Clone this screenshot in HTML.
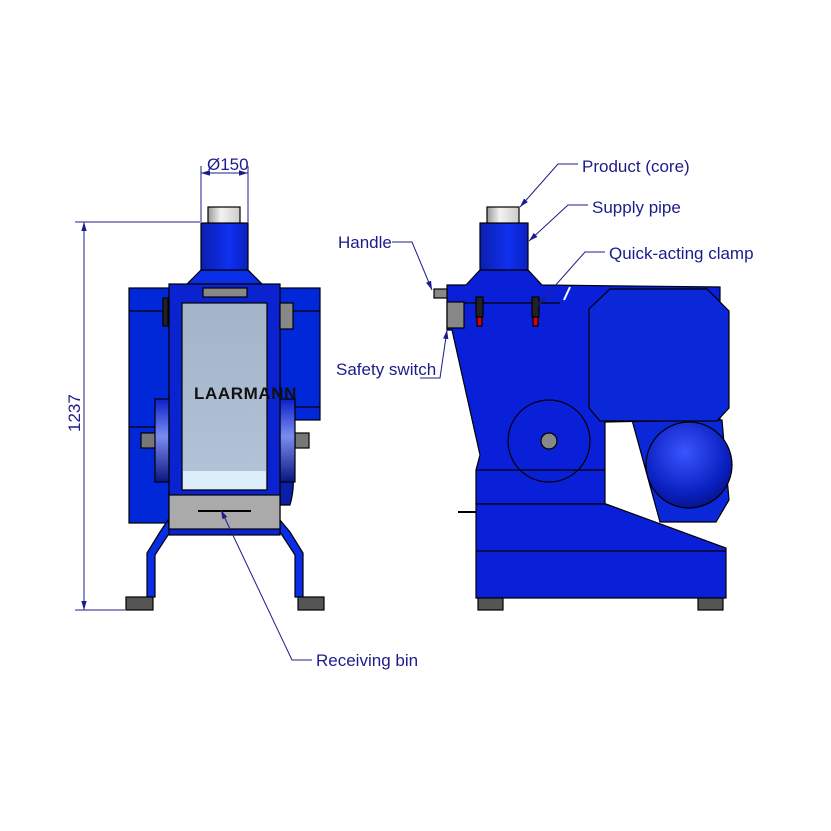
<!DOCTYPE html>
<html><head><meta charset="utf-8"><style>
html,body{margin:0;padding:0;background:#fff}
svg{display:block}
text{font-family:"Liberation Sans Narrow","Liberation Sans",sans-serif;fill:#1c1c8a;font-size:17px}
</style></head><body>
<svg width="831" height="831" viewBox="0 0 831 831" xmlns="http://www.w3.org/2000/svg">
<defs>
<linearGradient id="cap" x1="0" x2="1"><stop offset="0" stop-color="#999"/><stop offset=".4" stop-color="#f2f2f2"/><stop offset="1" stop-color="#ccc"/></linearGradient>
<linearGradient id="pipe" x1="0" x2="1"><stop offset="0" stop-color="#0a1fb0"/><stop offset=".6" stop-color="#1030f0"/><stop offset="1" stop-color="#0a20c0"/></linearGradient>
<linearGradient id="cyl" x1="0" x2="0" y1="0" y2="1"><stop offset="0" stop-color="#0b20c8"/><stop offset=".45" stop-color="#7a8cf0"/><stop offset="1" stop-color="#0a1580"/></linearGradient>
<radialGradient id="ball" cx=".45" cy=".35" r=".7"><stop offset="0" stop-color="#3a55ff"/><stop offset=".7" stop-color="#0a20c0"/><stop offset="1" stop-color="#061080"/></radialGradient>
<linearGradient id="panel" x1="0" x2="0" y1="0" y2="1"><stop offset="0" stop-color="#a4b4c8"/><stop offset="1" stop-color="#b4c4d8"/></linearGradient>
<marker id="ar" viewBox="0 0 10 10" refX="10" refY="5" markerWidth="9" markerHeight="9" orient="auto-start-reverse"><path d="M0,2 L10,5 L0,8 z" fill="#1c1c8a"/></marker>
</defs>
<g stroke="#000" stroke-width="1.2">
<rect x="129" y="288" width="40" height="235" fill="#0028d8"/>
<line x1="129" y1="311" x2="169" y2="311"/><line x1="129" y1="427" x2="155" y2="427"/>
<rect x="280" y="288" width="40" height="132" fill="#0028d8"/>
<line x1="280" y1="311" x2="320" y2="311"/><line x1="295" y1="407" x2="320" y2="407"/>
<path d="M280 440 Q300 470 290 505 L280 505 Z" fill="#0a1fa8"/>
<rect x="141" y="433" width="15" height="15" fill="#777"/>
<rect x="295" y="433" width="14" height="15" fill="#777"/>
<rect x="155" y="399" width="14" height="83" fill="url(#cyl)"/>
<rect x="280" y="399" width="15" height="83" fill="url(#cyl)"/>
<path d="M147 597 L147 553 L160 532 L168 520 L170 532 L155 555 L155 597 Z" fill="#0a2ee6"/>
<path d="M303 597 L303 553 L290 532 L280 520 L280 532 L295 555 L295 597 Z" fill="#0a2ee6"/>
<rect x="126" y="597" width="27" height="13" fill="#555"/>
<rect x="298" y="597" width="26" height="13" fill="#555"/>
<path d="M187 284 L201 270 L248 270 L262 284 Z" fill="#0a2ee6"/>
<rect x="169" y="284" width="111" height="251" fill="#0a22d0"/>
<rect x="201" y="223" width="47" height="47" fill="url(#pipe)"/>
<rect x="208" y="207" width="32" height="16" fill="url(#cap)"/>
<rect x="203" y="288" width="44" height="9" fill="#888"/>
<rect x="182" y="303" width="85" height="187" fill="url(#panel)"/>
<rect x="183" y="471" width="83" height="18" fill="#dceefa" stroke="none"/>
<rect x="169" y="495" width="111" height="34" fill="#aaa"/>
<line x1="198" y1="511" x2="251" y2="511" stroke-width="2"/>
<rect x="280" y="303" width="13" height="26" fill="#888"/>
<rect x="163" y="298" width="5" height="28" fill="#222"/>
<path d="M632 420 L722 420 L729 500 L716 522 L660 522 Z" fill="#0a28d8"/>
<circle cx="689" cy="465" r="43" fill="url(#ball)"/>
<path d="M447 285 L466 285 L480 270 L528 270 L542 285 L720 287 L720 420 L605 422 L605 504 L476 504 L476 470 L480 455 L452 330 L447 330 Z" fill="#0a20d8"/>
<rect x="480" y="223" width="48" height="47" fill="url(#pipe)"/>
<rect x="487" y="207" width="32" height="16" fill="url(#cap)"/>
<line x1="447" y1="303" x2="560" y2="303"/>
<path d="M610 289 L707 289 L729 311 L729 408 L717 421 L600 421 L589 408 L589 309 Z" fill="#0a28d8"/>
<circle cx="549" cy="441" r="41" fill="#0a20d8"/>
<circle cx="549" cy="441" r="8" fill="#888"/>
<line x1="476" y1="470" x2="605" y2="470"/>
<path d="M476 504 L606 504 L726 548 L726 598 L476 598 Z" fill="#0a20d8"/>
<line x1="476" y1="551" x2="726" y2="551"/>
<rect x="478" y="598" width="25" height="12" fill="#555"/>
<rect x="698" y="598" width="25" height="12" fill="#555"/>
<rect x="434" y="289" width="13" height="9" fill="#888"/>
<rect x="447" y="302" width="17" height="26" fill="#888"/>
<rect x="476" y="297" width="7" height="20" fill="#222"/><rect x="477" y="317" width="5" height="9" fill="#d00"/>
<rect x="532" y="297" width="7" height="20" fill="#222"/><rect x="533" y="317" width="5" height="9" fill="#d00"/>
<line x1="564" y1="300" x2="570" y2="287" stroke="#fff" stroke-width="2"/>
<line x1="458" y1="512" x2="476" y2="512" stroke-width="2"/>
</g>
<g stroke="#1c1c8a" stroke-width="1" fill="none">
<line x1="75" y1="222" x2="200" y2="222"/>
<line x1="75" y1="610" x2="125" y2="610"/>
<line x1="84" y1="222" x2="84" y2="610" marker-start="url(#ar)" marker-end="url(#ar)"/>
<line x1="201" y1="166" x2="201" y2="222"/>
<line x1="248" y1="166" x2="248" y2="222"/>
<line x1="201" y1="173" x2="248" y2="173" marker-start="url(#ar)" marker-end="url(#ar)"/>
<polyline points="578,164 558,164 520,207" marker-end="url(#ar)"/>
<polyline points="588,205 568,205 529,241" marker-end="url(#ar)"/>
<polyline points="605,252 585,252 538,305" marker-end="url(#ar)"/>
<polyline points="392,242 412,242 432,290" marker-end="url(#ar)"/>
<polyline points="420,378 440,378 447,330" marker-end="url(#ar)"/>
<polyline points="312,660 292,660 221,510" marker-end="url(#ar)"/>
</g>
<text x="207" y="170" font-size="14">Ø150</text>
<text x="80" y="432" font-size="14" transform="rotate(-90 80 432)">1237</text>
<text x="582" y="172" font-size="16">Product (core)</text>
<text x="592" y="213" font-size="16">Supply pipe</text>
<text x="609" y="259" font-size="16">Quick-acting clamp</text>
<text x="338" y="248" font-size="16">Handle</text>
<text x="336" y="375" font-size="16">Safety switch</text>
<text x="316" y="666" font-size="16">Receiving bin</text>
<text x="194" y="399" font-size="10" font-weight="bold" letter-spacing="0.6" style="fill:#111">LAARMANN</text>
</svg>
</body></html>
